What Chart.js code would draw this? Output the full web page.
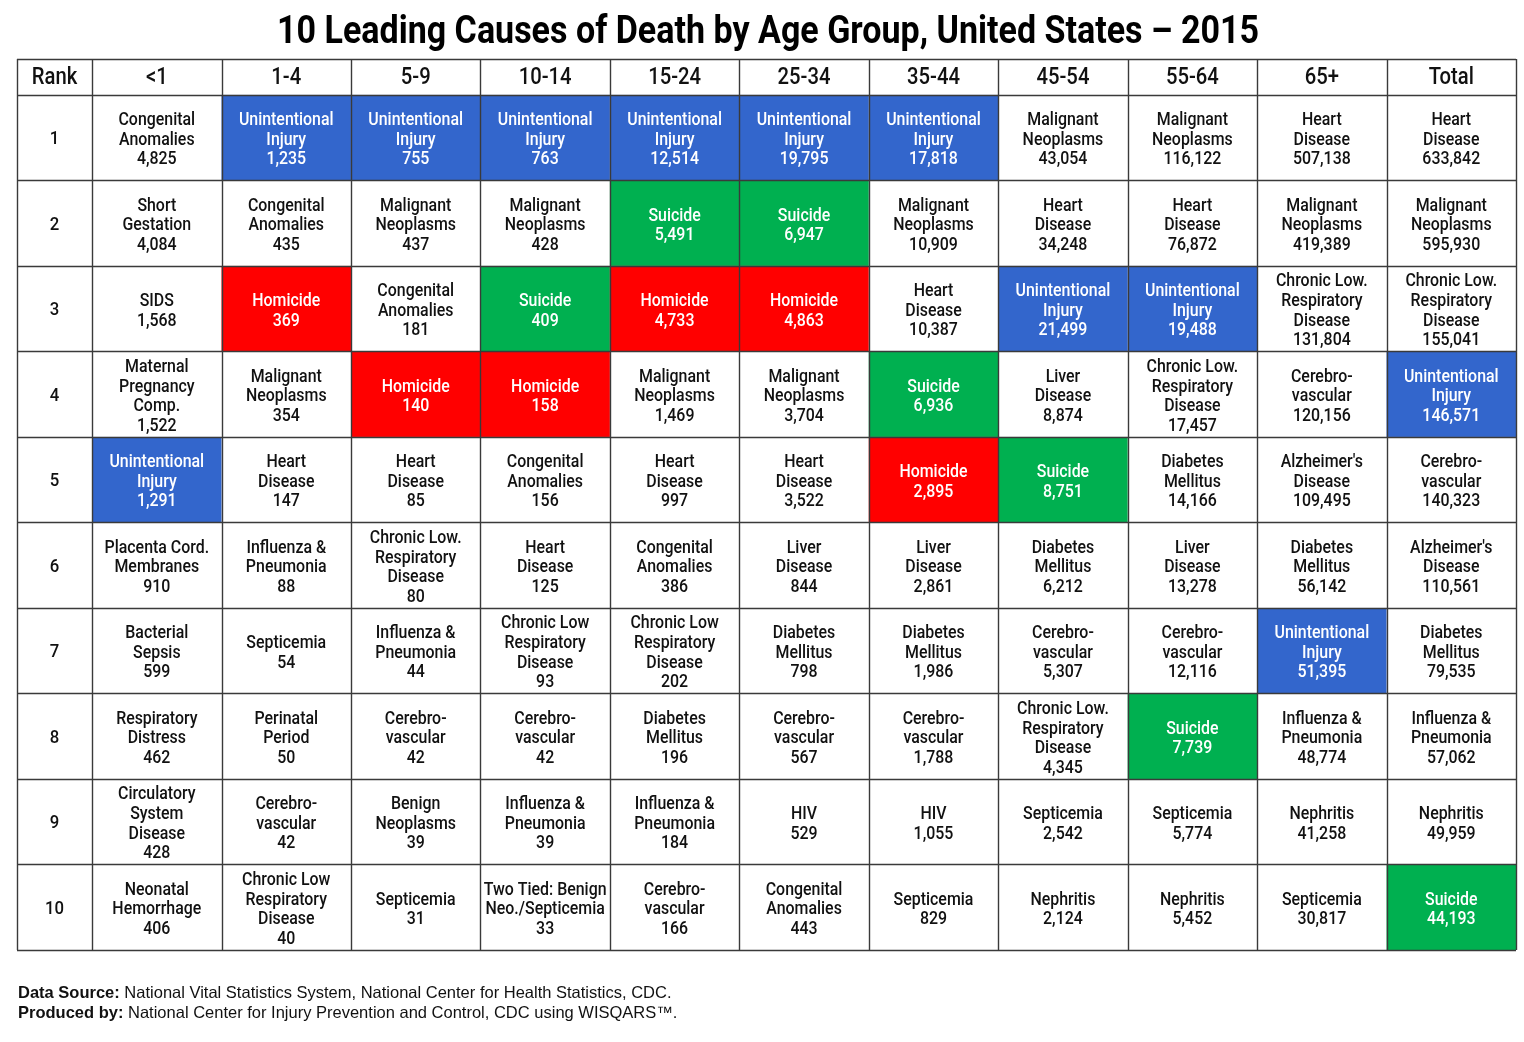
<!DOCTYPE html>
<html><head><meta charset="utf-8">
<script src="https://cdn.jsdelivr.net/npm/chart.js@4.4.1/dist/chart.umd.min.js"></script>
<style>html,body{margin:0;padding:0;background:#fff}#wrap{width:1524px;height:1042px;position:relative}</style>
</head><body><div id="wrap"><canvas id="c"></canvas></div>
<script>
const chartTitle = '10 Leading Causes of Death by Age Group, United States \u2013 2015';
const rankHeader = 'Rank';
const ranks = [1,2,3,4,5,6,7,8,9,10];
const ageGroups = ['<1','1-4','5-9','10-14','15-24','25-34','35-44','45-54','55-64','65+','Total'];

const causesUnder1 = ['Congenital|Anomalies','Short|Gestation','SIDS','Maternal|Pregnancy|Comp.','Unintentional|Injury','Placenta Cord.|Membranes','Bacterial|Sepsis','Respiratory|Distress','Circulatory|System|Disease','Neonatal|Hemorrhage'];
const deathsUnder1 = [4825,4084,1568,1522,1291,910,599,462,428,406];
const causes1to4 = ['Unintentional|Injury','Congenital|Anomalies','Homicide','Malignant|Neoplasms','Heart|Disease','Influenza &|Pneumonia','Septicemia','Perinatal|Period','Cerebro-|vascular','Chronic Low|Respiratory|Disease'];
const deaths1to4 = [1235,435,369,354,147,88,54,50,42,40];
const causes5to9 = ['Unintentional|Injury','Malignant|Neoplasms','Congenital|Anomalies','Homicide','Heart|Disease','Chronic Low.|Respiratory|Disease','Influenza &|Pneumonia','Cerebro-|vascular','Benign|Neoplasms','Septicemia'];
const deaths5to9 = [755,437,181,140,85,80,44,42,39,31];
const causes10to14 = ['Unintentional|Injury','Malignant|Neoplasms','Suicide','Homicide','Congenital|Anomalies','Heart|Disease','Chronic Low|Respiratory|Disease','Cerebro-|vascular','Influenza &|Pneumonia','Two Tied: Benign|Neo./Septicemia'];
const deaths10to14 = [763,428,409,158,156,125,93,42,39,33];
const causes15to24 = ['Unintentional|Injury','Suicide','Homicide','Malignant|Neoplasms','Heart|Disease','Congenital|Anomalies','Chronic Low|Respiratory|Disease','Diabetes|Mellitus','Influenza &|Pneumonia','Cerebro-|vascular'];
const deaths15to24 = [12514,5491,4733,1469,997,386,202,196,184,166];
const causes25to34 = ['Unintentional|Injury','Suicide','Homicide','Malignant|Neoplasms','Heart|Disease','Liver|Disease','Diabetes|Mellitus','Cerebro-|vascular','HIV','Congenital|Anomalies'];
const deaths25to34 = [19795,6947,4863,3704,3522,844,798,567,529,443];
const causes35to44 = ['Unintentional|Injury','Malignant|Neoplasms','Heart|Disease','Suicide','Homicide','Liver|Disease','Diabetes|Mellitus','Cerebro-|vascular','HIV','Septicemia'];
const deaths35to44 = [17818,10909,10387,6936,2895,2861,1986,1788,1055,829];
const causes45to54 = ['Malignant|Neoplasms','Heart|Disease','Unintentional|Injury','Liver|Disease','Suicide','Diabetes|Mellitus','Cerebro-|vascular','Chronic Low.|Respiratory|Disease','Septicemia','Nephritis'];
const deaths45to54 = [43054,34248,21499,8874,8751,6212,5307,4345,2542,2124];
const causes55to64 = ['Malignant|Neoplasms','Heart|Disease','Unintentional|Injury','Chronic Low.|Respiratory|Disease','Diabetes|Mellitus','Liver|Disease','Cerebro-|vascular','Suicide','Septicemia','Nephritis'];
const deaths55to64 = [116122,76872,19488,17457,14166,13278,12116,7739,5774,5452];
const causes65plus = ['Heart|Disease','Malignant|Neoplasms','Chronic Low.|Respiratory|Disease','Cerebro-|vascular',"Alzheimer's|Disease",'Diabetes|Mellitus','Unintentional|Injury','Influenza &|Pneumonia','Nephritis','Septicemia'];
const deaths65plus = [507138,419389,131804,120156,109495,56142,51395,48774,41258,30817];
const causesTotal = ['Heart|Disease','Malignant|Neoplasms','Chronic Low.|Respiratory|Disease','Unintentional|Injury','Cerebro-|vascular',"Alzheimer's|Disease",'Diabetes|Mellitus','Influenza &|Pneumonia','Nephritis','Suicide'];
const deathsTotal = [633842,595930,155041,146571,140323,110561,79535,57062,49959,44193];

const footSourceLabel = 'Data Source:';
const footSourceText = ' National Vital Statistics System, National Center for Health Statistics, CDC.';
const footProducedLabel = 'Produced by:';
const footProducedText = ' National Center for Injury Prevention and Control, CDC using WISQARS\u2122.';

const causeColumns = [causesUnder1,causes1to4,causes5to9,causes10to14,causes15to24,causes25to34,causes35to44,causes45to54,causes55to64,causes65plus,causesTotal];
const deathColumns = [deathsUnder1,deaths1to4,deaths5to9,deaths10to14,deaths15to24,deaths25to34,deaths35to44,deaths45to54,deaths55to64,deaths65plus,deathsTotal];

const highlight = {'Unintentional Injury':'#3366CC','Suicide':'#00B050','Homicide':'#FF0000'};
const CELL_FONT = 'Roboto,"Liberation Sans",sans-serif';
const RANK_COL = -0.58, HEAD_ROW = -0.42;

const datasets = ageGroups.map((g,i)=>({
  label: g,
  data: ranks.map((r,k)=>({x:i+0.5, y:r-0.5, cause: causeColumns[i][k], deaths: deathColumns[i][k]})),
  pointRadius: 0, pointHoverRadius: 0
}));

function squeezeText(ctx, s, x, y, sx){
  ctx.save(); ctx.translate(x,y); ctx.scale(sx,1); ctx.fillText(s,0,0); ctx.restore();
}

const tablePlugin = {
  id:'tableCells',
  afterDatasetsDraw(chart){
    const {ctx, scales:{x,y}} = chart;
    const px = v=>x.getPixelForValue(v), py = v=>y.getPixelForValue(v);
    ctx.save();
    // title
    ctx.textAlign='center'; ctx.textBaseline='middle'; ctx.fillStyle='#000';
    ctx.font = 'bold 38px '+CELL_FONT;
    const tw = ctx.measureText(chartTitle).width;
    squeezeText(ctx, chartTitle, 768, 33, Math.min(1, 982/tw));
    // fills
    chart.data.datasets.forEach((ds,i)=>{
      ds.data.forEach(p=>{
        const c = highlight[p.cause.replace(/\|/g,' ')];
        if(c){
          ctx.fillStyle = c;
          const l=px(p.x-0.5), r=px(p.x+0.5), t=py(p.y-0.5), b=py(p.y+0.5);
          ctx.fillRect(l,t,r-l,b-t);
        }
      });
    });
    // grid
    ctx.strokeStyle = '#3a3a3a'; ctx.lineWidth = 1.4;
    const xs=[RANK_COL]; for(let i=0;i<=ageGroups.length;i++) xs.push(i);
    const ys=[HEAD_ROW]; for(let i=0;i<=ranks.length;i++) ys.push(i);
    const L=px(RANK_COL), R=px(ageGroups.length), T=py(HEAD_ROW), B=py(ranks.length);
    ctx.beginPath();
    xs.forEach(v=>{const X=Math.round(px(v))+0.5; ctx.moveTo(X,T); ctx.lineTo(X,B);});
    ys.forEach(v=>{const Y=Math.round(py(v))+0.5; ctx.moveTo(L,Y); ctx.lineTo(R,Y);});
    ctx.stroke();
    // header
    ctx.fillStyle='#111';
    ctx.font = '500 23px '+CELL_FONT;
    const hy = py(HEAD_ROW/2)+1;
    squeezeText(ctx, rankHeader, px(RANK_COL/2), hy, 0.88);
    ageGroups.forEach((g,i)=>squeezeText(ctx, g, px(i+0.5), hy, 0.88));
    // rank labels
    ctx.font = '500 19px '+CELL_FONT;
    ranks.forEach(r=>squeezeText(ctx, String(r), px(RANK_COL/2), py(r-0.5)+2, 0.88));
    // cell text
    const LH = 19.6;
    ctx.font = '500 18.5px '+CELL_FONT;
    chart.data.datasets.forEach((ds,i)=>{
      ds.data.forEach(p=>{
        const lines = p.cause.split('|').concat([p.deaths.toLocaleString('en-US')]);
        const c = highlight[p.cause.replace(/\|/g,' ')];
        ctx.fillStyle = c ? '#ffffff' : '#111';
        const cx = px(p.x), cy = py(p.y)+2.5;
        const y0 = cy - (lines.length-1)*LH/2;
        lines.forEach((s,k)=>squeezeText(ctx, s, cx, y0+k*LH, 0.86));
      });
    });
    // footer
    ctx.textAlign='left'; ctx.textBaseline='alphabetic'; ctx.fillStyle='#111';
    const foot = (lab, txt, yy)=>{
      ctx.save(); ctx.translate(18,yy);
      ctx.font = 'bold 16.5px "Liberation Sans",Arial,sans-serif';
      ctx.fillText(lab, 0, 0);
      const w = ctx.measureText(lab).width;
      ctx.font = '16.5px "Liberation Sans",Arial,sans-serif';
      ctx.fillText(txt, w, 0);
      ctx.restore();
    };
    foot(footSourceLabel, footSourceText, 998);
    foot(footProducedLabel, footProducedText, 1018);
    ctx.restore();
  }
};

new Chart(document.getElementById('c'), {
  type:'scatter',
  data:{datasets},
  options:{
    responsive:true, maintainAspectRatio:false, animation:false,
    events:[],
    layout:{padding:{left:17,right:8,bottom:92,top:59}},
    scales:{
      x:{type:'linear',min:RANK_COL,max:ageGroups.length,display:false},
      y:{type:'linear',min:HEAD_ROW,max:ranks.length,reverse:true,display:false}
    },
    plugins:{ legend:{display:false}, tooltip:{enabled:false}, title:{display:false} }
  },
  plugins:[tablePlugin]
});
</script></body></html>
